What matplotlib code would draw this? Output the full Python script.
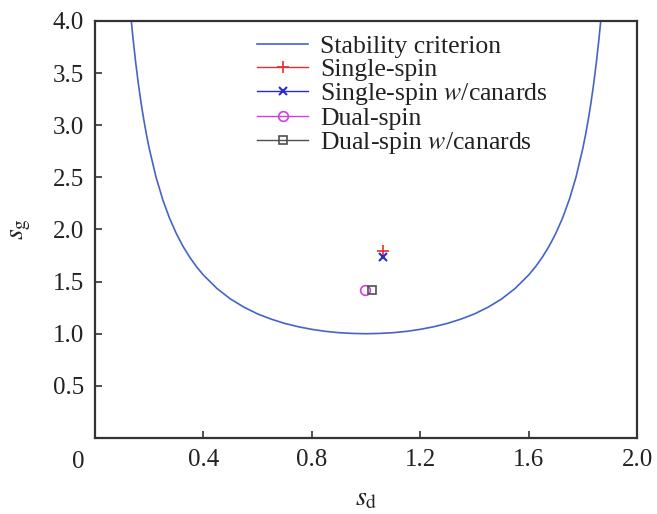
import matplotlib
matplotlib.use("Agg")
import matplotlib.pyplot as plt

# ---------------------------------------------------------------------------
# Data
# ---------------------------------------------------------------------------

# stability boundary, sampled along the drawn curve
curve_sd = [0.134, 0.14, 0.15, 0.16, 0.17, 0.18, 0.19, 0.20, 0.225, 0.25,
            0.275, 0.30, 0.325, 0.35, 0.375, 0.40, 0.45, 0.50, 0.55, 0.60,
            0.65, 0.70, 0.75, 0.80, 0.85, 0.90, 0.95, 1.00,
            1.05, 1.10, 1.15, 1.20, 1.25, 1.30, 1.35, 1.40, 1.45, 1.50,
            1.55, 1.60, 1.625, 1.65, 1.675, 1.70, 1.725, 1.75, 1.775, 1.80,
            1.81, 1.82, 1.83, 1.84, 1.85, 1.86, 1.866]
curve_sg = [3.999, 3.840, 3.604, 3.397, 3.214, 3.053, 2.908, 2.778, 2.504, 2.286,
            2.108, 1.961, 1.837, 1.732, 1.641, 1.563, 1.434, 1.333, 1.254, 1.190,
            1.140, 1.099, 1.067, 1.042, 1.023, 1.010, 1.003, 1.000,
            1.003, 1.010, 1.023, 1.042, 1.067, 1.099, 1.140, 1.190, 1.254, 1.333,
            1.434, 1.563, 1.641, 1.732, 1.837, 1.961, 2.108, 2.286, 2.504, 2.778,
            2.908, 3.053, 3.214, 3.397, 3.604, 3.840, 3.999]

single_sd, single_sg = [1.063], [1.79]
single_can_sd, single_can_sg = [1.063], [1.74]
dual_sd, dual_sg = [0.997], [1.42]
dual_can_sd, dual_can_sg = [1.022], [1.42]

xticks = [0.4, 0.8, 1.2, 1.6, 2.0]
yticks = [0.5, 1.0, 1.5, 2.0, 2.5, 3.0, 3.5, 4.0]

# ---------------------------------------------------------------------------
# Style
# ---------------------------------------------------------------------------

plt.rcParams["font.family"] = ["Liberation Serif", "DejaVu Serif"]
plt.rcParams["mathtext.fontset"] = "stix"

TEXT = "#222222"
SPINE = "#333333"

fig = plt.figure(figsize=(6.57, 5.14), dpi=100)
ax = fig.add_axes([0.1446, 0.1479, 0.8250, 0.8113])

ax.plot(curve_sd, curve_sg, color="#4563c8", linewidth=1.2,
        label="Stability criterion")
ax.plot(single_sd, single_sg, "-+", color="#e03030", markersize=8,
        markeredgewidth=1.2, linewidth=1.0, label="Single-spin")
ax.plot(single_can_sd, single_can_sg, "-x", color="#2a2ad0", markersize=6,
        markeredgewidth=1.5, linewidth=1.0, label="Single-spin $w$/canards")
ax.plot(dual_sd, dual_sg, "-o", color="#d040e0", markersize=7,
        markerfacecolor="none", markeredgewidth=1.2, linewidth=1.0,
        label="Dual-spin")
ax.plot(dual_can_sd, dual_can_sg, "-s", color="#505050", markersize=6,
        markerfacecolor="none", markeredgewidth=1.2, linewidth=1.0,
        label="Dual-spin $w$/canards")

ax.set_xlim(0, 2.0)
ax.set_ylim(0, 4.0)
ax.set_xticks(xticks)
ax.set_xticklabels([f"{v:.1f}" for v in xticks])
ax.set_yticks(yticks)
ax.set_yticklabels([f"{v:.1f}" for v in yticks])
ax.tick_params(direction="in", length=5, width=1.2, color=SPINE,
               labelsize=18, labelcolor=TEXT, pad=8)
for side in ax.spines.values():
    side.set_linewidth(1.6)
    side.set_color(SPINE)

# shared origin label in the corner
ax.text(-0.031, -0.058, "0", transform=ax.transAxes, ha="center", va="center",
        fontsize=18, color=TEXT)

ax.set_xlabel(r"$s_\mathrm{d}$", fontsize=20, color=TEXT, labelpad=11)
ax.set_ylabel(r"$s_\mathrm{g}$", fontsize=20, color=TEXT, labelpad=14)

ax.legend(loc="upper left", bbox_to_anchor=(0.299, 0.967), frameon=False,
          fontsize=18.5, numpoints=1, handlelength=2.0, handletextpad=0.45,
          labelspacing=0.0, borderpad=0, borderaxespad=0, labelcolor=TEXT)

fig.savefig("out.png", dpi=100)
plt.close(fig)
